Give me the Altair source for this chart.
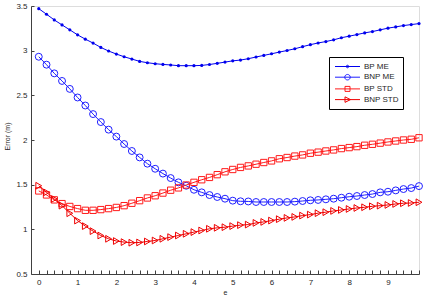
import altair as alt
import pandas as pd

x_vals = [0.0, 0.2, 0.4, 0.6, 0.8, 1.0, 1.2, 1.4, 1.6, 1.8,
          2.0, 2.2, 2.4, 2.6, 2.8, 3.0, 3.2, 3.4, 3.6, 3.8,
          4.0, 4.2, 4.4, 4.6, 4.8, 5.0, 5.2, 5.4, 5.6, 5.8,
          6.0, 6.2, 6.4, 6.6, 6.8, 7.0, 7.2, 7.4, 7.6, 7.8,
          8.0, 8.2, 8.4, 8.6, 8.8, 9.0, 9.2, 9.4, 9.6, 9.8]

bp_me = [3.470, 3.408, 3.344, 3.288, 3.233, 3.177, 3.129, 3.085, 3.036, 2.996,
         2.962, 2.932, 2.906, 2.880, 2.865, 2.854, 2.846, 2.840, 2.832, 2.832,
         2.832, 2.835, 2.845, 2.858, 2.872, 2.886, 2.895, 2.910, 2.929, 2.947,
         2.965, 2.984, 3.002, 3.021, 3.045, 3.067, 3.086, 3.102, 3.121, 3.145,
         3.162, 3.180, 3.199, 3.214, 3.233, 3.252, 3.266, 3.281, 3.292, 3.303]

bnp_me = [2.932, 2.843, 2.746, 2.661, 2.572, 2.476, 2.386, 2.290, 2.201, 2.116,
          2.038, 1.955, 1.877, 1.805, 1.735, 1.678, 1.624, 1.574, 1.526, 1.488,
          1.443, 1.414, 1.384, 1.362, 1.343, 1.321, 1.314, 1.312, 1.306, 1.306,
          1.306, 1.306, 1.306, 1.310, 1.317, 1.325, 1.329, 1.336, 1.343, 1.354,
          1.365, 1.373, 1.384, 1.395, 1.414, 1.421, 1.436, 1.451, 1.462, 1.484]

bp_std = [1.430, 1.385, 1.330, 1.288, 1.256, 1.232, 1.213, 1.213, 1.221, 1.232,
          1.245, 1.265, 1.292, 1.321, 1.351, 1.376, 1.406, 1.438, 1.464, 1.496,
          1.526, 1.555, 1.581, 1.612, 1.644, 1.670, 1.693, 1.710, 1.729, 1.748,
          1.766, 1.790, 1.804, 1.820, 1.833, 1.852, 1.864, 1.877, 1.889, 1.904,
          1.915, 1.926, 1.941, 1.952, 1.965, 1.978, 1.989, 2.000, 2.008, 2.025]

bnp_std = [1.488, 1.414, 1.340, 1.265, 1.180, 1.098, 1.036, 0.980, 0.931, 0.894,
           0.869, 0.857, 0.850, 0.853, 0.864, 0.875, 0.894, 0.913, 0.931, 0.950,
           0.969, 0.987, 1.006, 1.017, 1.024, 1.036, 1.047, 1.053, 1.072, 1.083,
           1.098, 1.114, 1.128, 1.139, 1.154, 1.165, 1.181, 1.192, 1.206, 1.217,
           1.228, 1.239, 1.247, 1.258, 1.265, 1.273, 1.284, 1.292, 1.295, 1.303]

series_names = ["BP ME", "BNP ME", "BP STD", "BNP STD"]
series_colors = ["#0000ee", "#1f1fff", "#ff1a1a", "#ee0000"]
series_shapes = ["circle", "circle", "square", "triangle-right"]
series_sizes = [10, 48, 40, 45]
series_filled = [True, False, False, False]

x_label_values = [0, 1, 2, 3, 4, 5, 6, 7, 8, 9]
x_minor_ticks = x_vals
y_tick_values = [0.5, 1.0, 1.5, 2.0, 2.5, 3.0, 3.5]

rows = []
for name, vals in zip(series_names, [bp_me, bnp_me, bp_std, bnp_std]):
    for xv, yv in zip(x_vals, vals):
        rows.append({"e": xv, "err": yv, "series": name})
df = pd.DataFrame(rows)

W, H = 388, 268
FONT = "Liberation Sans"
TXT = "#262626"

xs = alt.Scale(domain=[-0.2, 9.8], nice=False, zero=False)
ys = alt.Scale(domain=[0.5, 3.5], nice=False, zero=False)
cs = alt.Scale(domain=series_names, range=series_colors)

line_path = "M-2.5,0H2.5 "
legend_paths = [
    line_path + "M-0.25,0A0.25,0.25 0 1,0 0.25,0A0.25,0.25 0 1,0 -0.25,0",
    line_path + "M-0.55,0A0.55,0.55 0 1,0 0.55,0A0.55,0.55 0 1,0 -0.55,0",
    line_path + "M-0.5,-0.5H0.5V0.5H-0.5Z",
    line_path + "M-0.5,-0.55L0.6,0L-0.5,0.55Z",
]

base = alt.Chart(df)

main_x_axis = alt.Axis(
    orient="bottom", values=x_label_values, ticks=False, grid=False,
    domainColor="#404040", domainWidth=1, labelFontSize=8, labelFont=FONT,
    labelColor=TXT, labelPadding=4, title="e", titleFont=FONT,
    titleFontSize=7, titleFontWeight="normal", titleColor=TXT, titlePadding=2)
main_y_axis = alt.Axis(
    orient="left", values=y_tick_values, format="~g", ticks=False, grid=False,
    domainColor="#404040", domainWidth=1, labelFontSize=8, labelFont=FONT,
    labelColor=TXT, labelPadding=4, title="Error (m)", titleFont=FONT,
    titleFontSize=7, titleFontWeight="normal", titleColor=TXT, titlePadding=5,
    titleY=130)

layers = []
for i, (name, col, shp, sz, fl) in enumerate(
        zip(series_names, series_colors, series_shapes, series_sizes, series_filled)):
    layer = base.transform_filter(alt.datum.series == name).mark_line(
        strokeWidth=1, color=col,
        point=alt.OverlayMarkDef(shape=shp, size=sz, filled=fl, color=col, strokeWidth=1),
    ).encode(
        x=alt.X("e:Q", scale=xs, axis=main_x_axis if i == 0 else None),
        y=alt.Y("err:Q", scale=ys, axis=main_y_axis if i == 0 else None),
    )
    layers.append(layer)

leg_props = dict(
    orient="none", legendX=298, legendY=51, title=None,
    fillColor="white", strokeColor="black", padding=4,
    symbolSize=100, symbolStrokeWidth=1, symbolOffset=9, symbolOpacity=1,
    labelFont=FONT, labelFontSize=8, labelColor=TXT, labelOffset=11,
    rowPadding=0.7,
)

tick_x_axis = alt.Axis(orient="top", offset=-H, values=x_minor_ticks, labels=False,
                       domain=False, ticks=True, tickSize=4, tickColor="#404040",
                       grid=False, title=None)
tick_y_axis = alt.Axis(orient="right", offset=-W, values=y_tick_values, labels=False,
                       domain=False, ticks=True, tickSize=3, tickColor="#404040",
                       grid=False, title=None)

legend_layer = base.mark_point(opacity=0, filled=False, strokeWidth=1).encode(
    x=alt.X("e:Q", scale=xs, axis=tick_x_axis),
    y=alt.Y("err:Q", scale=ys, axis=tick_y_axis),
    color=alt.Color("series:N", scale=cs, legend=alt.Legend(**leg_props)),
    shape=alt.Shape("series:N", scale=alt.Scale(domain=series_names, range=legend_paths),
                    legend=alt.Legend(**leg_props)),
)

chart = alt.layer(*layers, legend_layer).resolve_axis(
    x="independent", y="independent"
).properties(
    width=W, height=H,
    padding={"left": 31, "top": 6, "right": 13, "bottom": 22},
    autosize=alt.AutoSizeParams(type="none"),
).configure_view(stroke=None).configure(background="white")

chart.save("out.html", embed_options={"renderer": "svg", "actions": False})
